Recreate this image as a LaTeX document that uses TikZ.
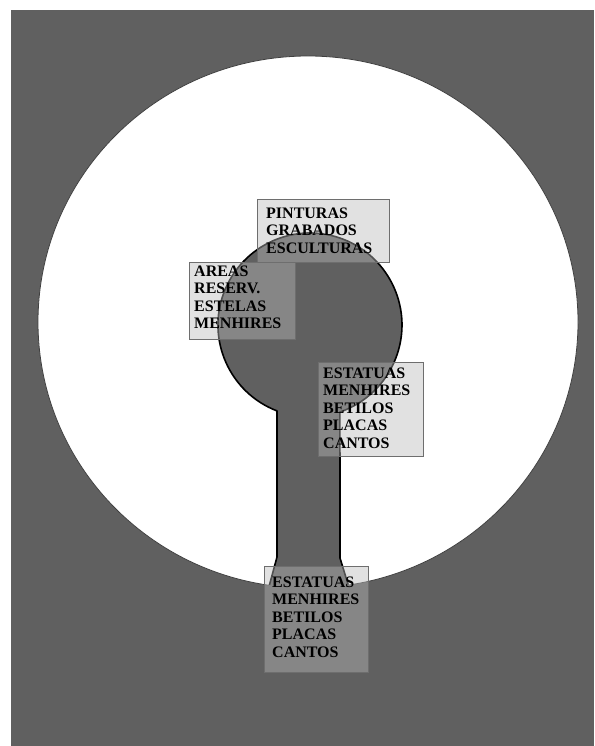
\documentclass[tikz,border=0pt]{standalone}
\usepackage{fontspec}
\setmainfont{Liberation Serif}
\begin{document}
\begin{tikzpicture}[x=1pt,y=-1pt,
  box/.style={draw={rgb,255:red,110;green,110;blue,110}, line width=1pt,
    fill={rgb,255:red,186;green,186;blue,186}, fill opacity=0.43,
    anchor=north west, inner sep=0pt, outer sep=0pt},
  lbl/.style={anchor=north west, inner sep=0pt, align=left,
    font=\fontsize{16}{17.5}\selectfont\bfseries, text=black},
  keyline/.style={line width=1.6pt, line join=round, draw=black}
]
\definecolor{bg}{RGB}{96,96,96}
\useasboundingbox (0,0) rectangle (594,746);
\fill[white] (0,0) rectangle (594,746);
\fill[bg] (11,10) rectangle (594,746);
% big white disc
\filldraw[fill=white, draw=black!75, line width=0.8pt] (308,322) ellipse [x radius=270, y radius=266];
% keyhole
\coordinate (hc) at (310,325);
\fill[bg] (267,594) -- (277,557) -- (277,410.9) arc[start angle=111, end angle=431, radius=92] -- (340,558) -- (351,594) -- cycle;
\begin{scope}
  \clip (308,322) ellipse [x radius=269.6, y radius=265.6];
  \draw[keyline] (267,594) -- (277,557) -- (277,410.9) arc[start angle=111, end angle=431, radius=92] -- (340,558) -- (351,594);
\end{scope}
% boxes
\node[box, minimum width=132, minimum height=63] (b1) at (257,199) {};
\node[box, minimum width=106, minimum height=77] (b2) at (189,262) {};
\node[box, minimum width=105, minimum height=94] (b3) at (318,362) {};
\node[box, minimum width=104, minimum height=106] (b4) at (264,566) {};
% labels
\node[lbl] (t1) at (266,207.5) {PINTURAS\\GRABADOS\\ESCULTURAS};
\node[lbl] (t2) at (194,265.5) {AREAS\\RESERV.\\ESTELAS\\MENHIRES};
\node[lbl] (t3) at (323,367.5) {ESTATUAS\\MENHIRES\\BETILOS\\PLACAS\\CANTOS};
\node[lbl] (t4) at (272,576.5) {ESTATUAS\\MENHIRES\\BETILOS\\PLACAS\\CANTOS};
\end{tikzpicture}
\end{document}
